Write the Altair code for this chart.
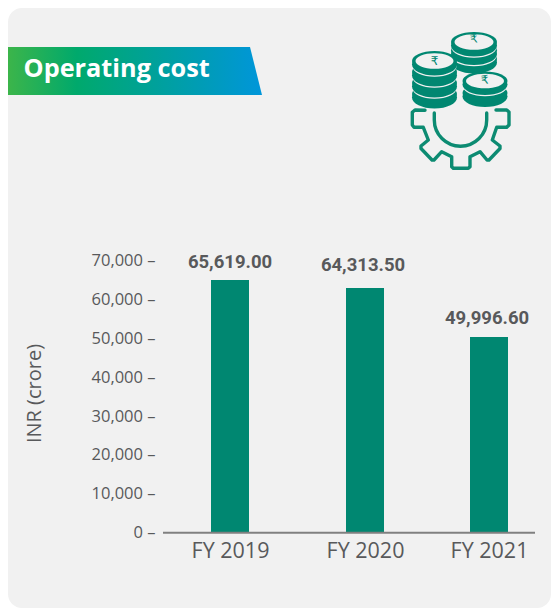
import altair as alt

years = [2019, 2020, 2021]
bar_values = [64960, 62900, 50310]
value_labels = ["65,619.00", "64,313.50", "49,996.60"]
y_ticks = [0, 10000, 20000, 30000, 40000, 50000, 60000, 70000]

TEAL = "#008771"
GREY = "#58595b"
PANEL = "#f1f1f1"
SANS = "Open Sans"
W, H = 543, 600

rows = [{"year": y, "value": v, "label": l} for y, v, l in zip(years, bar_values, value_labels)]
none = alt.Data(values=[{"a": 1}])
x_scale = alt.Scale(domain=years, range=[222, 357, 481], nice=False, zero=False, padding=0)
y_scale = alt.Scale(domain=[0, 70000], range=[524.7, 252.4], nice=False)

x_axis = alt.Axis(
    values=years, labelExpr="'FY ' + datum.value", domain=False, ticks=False, grid=False, offset=-(H - 524.7),
    labelFont=SANS, labelFontSize=21.5, labelColor=GREY, labelPadding=8, labelOverlap=False, labelFlush=False,
    zindex=1)
y_axis = alt.Axis(
    values=y_ticks, labelExpr="datum.label + ' –'", domain=False, ticks=False, grid=False, offset=-147,
    labelFont=SANS, labelFontSize=16.5, labelColor=GREY, labelPadding=0, labelOverlap=False,
    titleFont=SANS, titleFontSize=20, titleFontWeight="normal", titleColor=GREY,
    titleX=-115, titleY=385, titleAngle=270, titleAlign="center", titleBaseline="alphabetic", zindex=1)


def ellipse(cx, cy, rx, ry):
    cx -= 8
    cy -= 8
    return f"M{cx-rx} {cy}A{rx} {ry} 0 1 0 {cx+rx} {cy}A{rx} {ry} 0 1 0 {cx-rx} {cy}Z"


def path_fill(path, color, **kw):
    return alt.Chart(none).mark_point(shape=path, size=4, filled=True, fill=color, opacity=1, strokeWidth=0, **kw).encode(
        x=alt.value(0), y=alt.value(0))


def coin_stack(cx, rx, top_y, ry, steps, dy):
    out = []
    for k in reversed(range(steps)):
        cy = top_y + k * dy
        if k < steps - 1:
            out.append(path_fill(ellipse(cx, cy + 5.5, rx - 0.5, ry + 0.3), PANEL))
        out.append(path_fill(ellipse(cx, cy + 3.5, rx, ry + 1), TEAL))
        out.append(path_fill(ellipse(cx, cy, rx, ry), TEAL))
    out.append(path_fill(ellipse(cx, top_y, rx - 3.5, ry - 2.2), PANEL))
    return out


def rupee(x, y, angle=0):
    return alt.Chart(none).mark_text(text="₹", font="DejaVu Sans", fontSize=12, color=TEAL, angle=angle % 360,
                                     align="center", baseline="middle").encode(x=alt.value(x - 8), y=alt.value(y - 8))


def flat(*pts):
    return "L".join(f"{px-8} {py-8}" for px, py in pts)


gear_pts = [(425, 110.3), (415, 110), (412.3, 112.3), (412.3, 125), (414, 127.3), (423.3, 127.3), (428.3, 140),
            (421, 146), (421, 148.5), (432, 160), (434, 160), (441.7, 151.7), (451.7, 156.7), (451.7, 166.7),
            (453.3, 168.3), (468.3, 168.3), (470, 166.7), (470, 156.7), (480, 151.7), (487, 160), (489, 160),
            (500, 148.5), (500, 146), (492.3, 140), (496.7, 127.3), (506.7, 127.3), (509, 125), (509, 112),
            (506.7, 110), (496, 110)]
gear_path = "M" + flat(*gear_pts) + f"M{434.3-8} {113-8}L{434.3-8} {120-8}A26.2 26.2 0 0 0 {486.7-8} {120-8}L{486.7-8} {113-8}"
gear = alt.Chart(none).mark_point(shape=gear_path, size=4, filled=False, stroke="#0c8b72", strokeWidth=3.4,
                                  strokeCap="round", strokeJoin="round", opacity=1).encode(x=alt.value(0), y=alt.value(0))

panel = alt.Chart(none).mark_rect(fill=PANEL, cornerRadius=14).encode(
    x=alt.value(0), x2=alt.value(W), y=alt.value(0), y2=alt.value(H))

banner_fill = alt.LinearGradient(
    gradient="linear", x1=0, x2=1, y1=0, y2=0,
    stops=[alt.GradientStop(offset=0, color="#3cb54a"), alt.GradientStop(offset=0.27, color="#00a96c"),
           alt.GradientStop(offset=1, color="#0096da")])
banner = path_fill("M0 39L242 39L254 87L0 87Z", banner_fill)
banner_text = alt.Chart(none).mark_text(text="Operating cost", font=SANS, fontSize=25.3, fontWeight="bold", color="white",
                                        align="left", baseline="alphabetic").encode(x=alt.value(15.5), y=alt.value(69))

base = alt.Chart(alt.Data(values=rows))
bars = base.mark_bar(size=38, color=TEAL).encode(
    x=alt.X("year:Q", scale=x_scale, title=None, axis=x_axis),
    y=alt.Y("value:Q", scale=y_scale, title="INR (crore)", axis=y_axis),
)

baseline = alt.Chart(none).mark_rule(color="#808080", strokeWidth=2).encode(
    x=alt.value(155), x2=alt.value(527), y=alt.datum(0, scale=y_scale, axis=y_axis, title="INR (crore)"))

label_layers = []
for lab, dx, dy in zip(value_labels, [0, -2, -2], [-12, -17, -13]):
    label_layers.append(base.transform_filter(alt.datum.label == lab).mark_text(
        font="Roboto", fontWeight="bold", fontSize=18.5, color=GREY, align="center",
        baseline="alphabetic", dx=dx, dy=dy).encode(
        x=alt.X("year:Q", scale=x_scale, title=None, axis=x_axis),
        y=alt.Y("value:Q", scale=y_scale, title="INR (crore)", axis=y_axis),
        text="label:N"))

coins = (
    coin_stack(474, 23, 42, 10, 3, 8.5)
    + [rupee(474, 39, -10)]
    + coin_stack(434.5, 22.5, 61, 10, 4, 11)
    + [rupee(434.5, 61)]
    + coin_stack(485, 22.5, 81, 9.5, 2, 12)
    + [rupee(485, 80, -8)]
)

chart = alt.layer(panel, banner, banner_text, *coins, gear, bars, baseline, *label_layers).properties(
    width=W, height=H, padding=0, autosize=alt.AutoSizeParams(type="none"), background="white"
).configure_view(stroke=None)

chart.save("out.html", embed_options={"renderer": "svg", "actions": False})
